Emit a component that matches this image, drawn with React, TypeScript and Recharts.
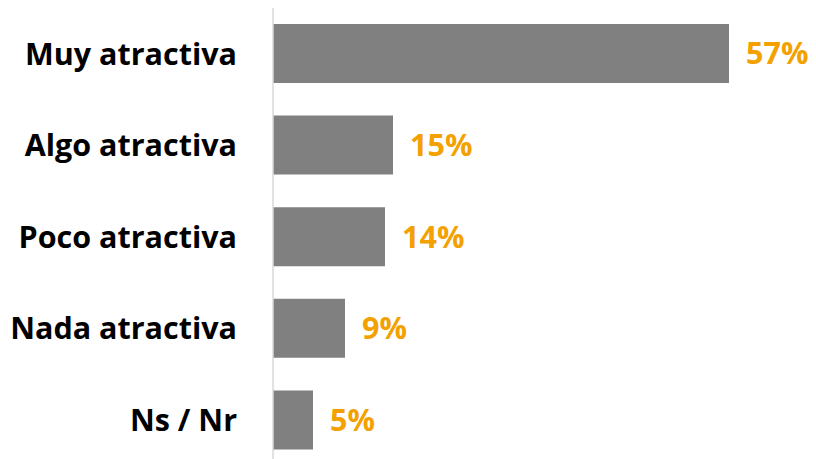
import { BarChart, Bar, XAxis, YAxis, LabelList } from 'recharts'

const categories = ['Muy atractiva', 'Algo atractiva', 'Poco atractiva', 'Nada atractiva', 'Ns / Nr']
const values = [57, 15, 14, 9, 5]

const data = categories.map((c, i) => ({ name: c, value: values[i] }))

const FONT = '"Open Sans", Lato, sans-serif'

export default function App() {
  return (
    <div style={{ position: 'fixed', top: 0, left: 0, width: 816, height: 459, overflow: 'hidden', background: '#fff' }}>
      <BarChart width={816} height={466} data={data} layout="vertical" margin={{ top: 8, right: 63, bottom: 0, left: 0 }}>
        <XAxis type="number" domain={[0, 60]} hide />
        <YAxis
          type="category"
          dataKey="name"
          width={273}
          tickLine={false}
          tickSize={0}
          tickMargin={36}
          axisLine={{ stroke: '#d9d9d9', strokeWidth: 1.5 }}
          tick={{ fill: '#000', fontSize: 30.5, fontWeight: 700, fontFamily: FONT }}
        />
        <Bar dataKey="value" fill="#808080" barSize={59} isAnimationActive={false}>
          <LabelList
            dataKey="value"
            position="right"
            offset={17}
            formatter={(v: any) => `${v}%`}
            style={{ fill: '#F2A100', fontSize: 30.5, fontWeight: 700, fontFamily: FONT }}
          />
        </Bar>
      </BarChart>
    </div>
  )
}
